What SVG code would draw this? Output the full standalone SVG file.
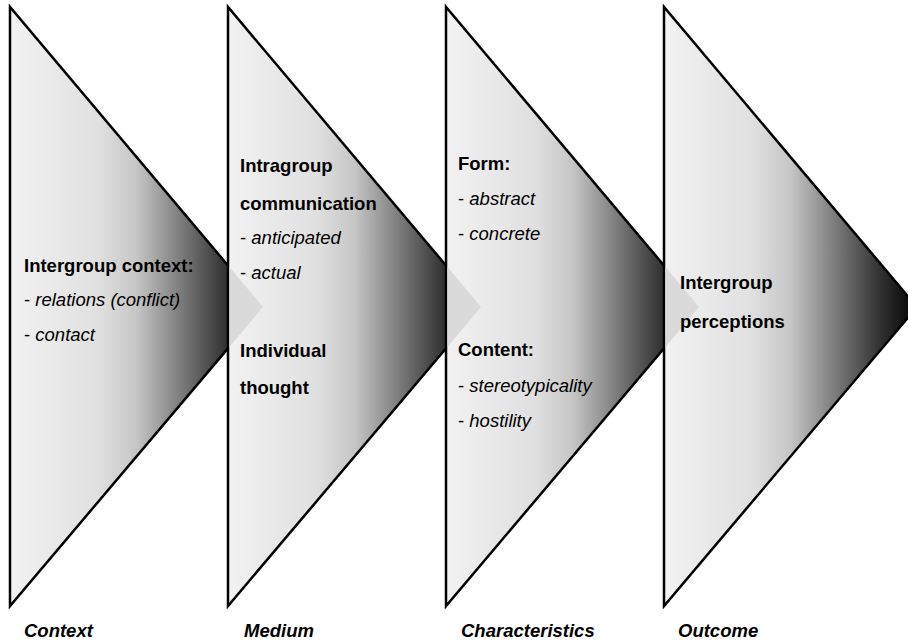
<svg xmlns="http://www.w3.org/2000/svg" width="908" height="643" viewBox="0 0 908 643">
  <defs>
    <linearGradient id="g" x1="0" y1="0" x2="1" y2="0">
      <stop offset="0" stop-color="#f2f2f2"/>
      <stop offset="0.35" stop-color="#e0e0e0"/>
      <stop offset="0.5" stop-color="#c6c6c6"/>
      <stop offset="0.68" stop-color="#7a7a7a"/>
      <stop offset="0.85" stop-color="#333333"/>
      <stop offset="1" stop-color="#000000"/>
    </linearGradient>
    <style>
      .tri { fill: url(#g); stroke: #000; stroke-width: 2.5; stroke-linejoin: miter; }
      .ghost { fill: #dadada; stroke: none; }
      text { font-family: "Liberation Sans", Arial, sans-serif; font-size: 18.5px; fill: #000; }
      .b { font-weight: bold; }
      .i { font-style: italic; }
      .bi { font-weight: bold; font-style: italic; }
    </style>
  </defs>

  <g id="context">
    <polygon class="tri" points="10,7 10,606 263,307"/>
    <text class="b" x="24" y="272">Intergroup context:</text>
    <text x="24" y="306">- <tspan class="i">relations (conflict)</tspan></text>
    <text x="24" y="341">- <tspan class="i">contact</tspan></text>
    <text class="bi" x="24" y="637">Context</text>
  </g>

  <g id="medium">
    <polygon class="tri" points="228,7 228,606 481,307"/>
    <polygon class="ghost" points="229.5,267 263,307 229.5,347"/>
    <text class="b" x="240" y="172">Intragroup</text>
    <text class="b" x="240" y="210">communication</text>
    <text x="240" y="244">- <tspan class="i">anticipated</tspan></text>
    <text x="240" y="279">- <tspan class="i">actual</tspan></text>
    <text class="b" x="240" y="357">Individual</text>
    <text class="b" x="240" y="394">thought</text>
    <text class="bi" x="244" y="637">Medium</text>
  </g>

  <g id="characteristics">
    <polygon class="tri" points="446,7 446,606 699,307"/>
    <polygon class="ghost" points="447.5,267 481,307 447.5,347"/>
    <text class="b" x="458" y="170">Form:</text>
    <text x="458" y="205">- <tspan class="i">abstract</tspan></text>
    <text x="458" y="240">- <tspan class="i">concrete</tspan></text>
    <text class="b" x="458" y="356">Content:</text>
    <text x="458" y="392">- <tspan class="i">stereotypicality</tspan></text>
    <text x="458" y="427">- <tspan class="i">hostility</tspan></text>
    <text class="bi" x="461" y="637">Characteristics</text>
  </g>

  <g id="outcome">
    <polygon class="tri" points="664,7 664,606 917,307"/>
    <polygon class="ghost" points="665.5,267 699,307 665.5,347"/>
    <text class="b" x="680" y="289">Intergroup</text>
    <text class="b" x="680" y="328">perceptions</text>
    <text class="bi" x="678" y="637">Outcome</text>
  </g>

  <g id="connectors"/>
</svg>
